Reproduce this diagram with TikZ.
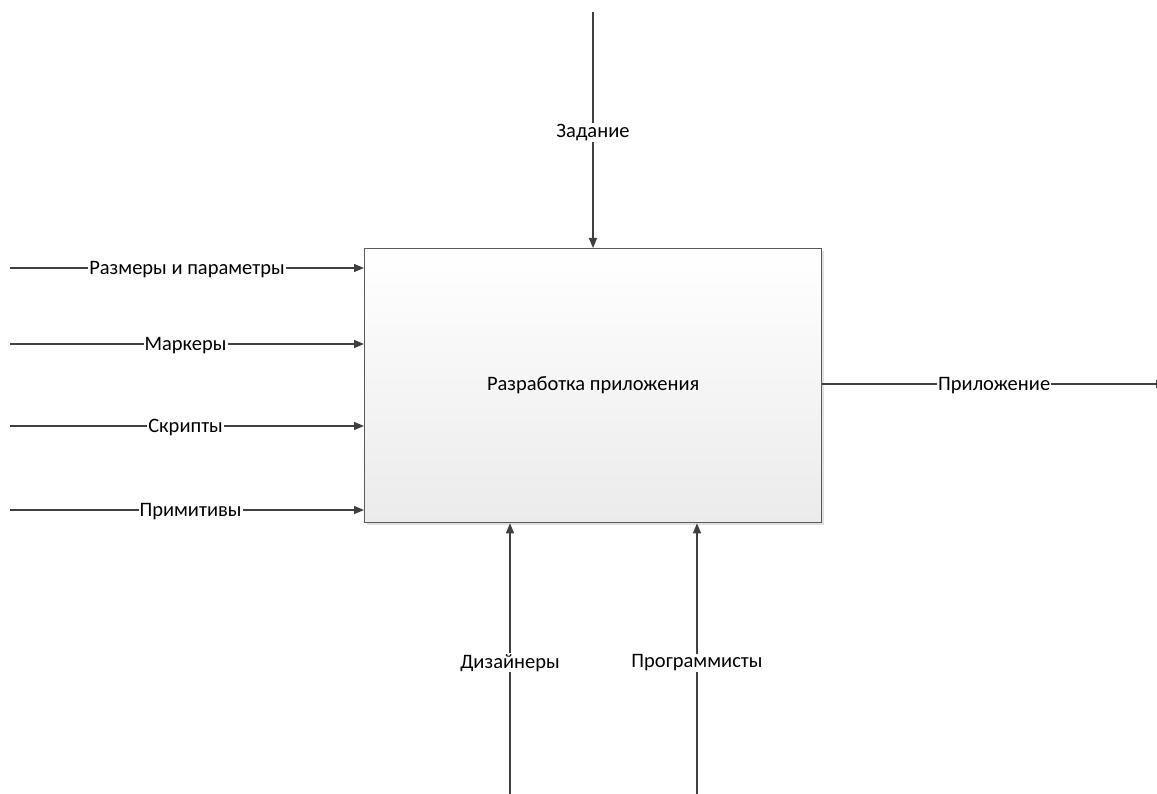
\documentclass[tikz,border=0pt]{standalone}
\usepackage{fontspec}
\setmainfont{Carlito}
\usetikzlibrary{arrows.meta}
\definecolor{linegray}{HTML}{404040}
\definecolor{boxedge}{HTML}{5A5A5A}
\definecolor{boxbottom}{HTML}{EBEBEB}
\tikzset{
  flow/.style={draw=linegray, line width=1.3pt, -{Triangle[length=10pt,width=8pt]}},
  lbl/.style={fill=white, inner sep=1pt, yshift=-1.5pt, text=black, font=\fontsize{20.5}{24}\selectfont},
  activity/.style={draw=boxedge, line width=1.3pt, top color=white, bottom color=boxbottom,
    minimum width=457pt, minimum height=274pt, inner sep=0pt,
    font=\fontsize{20.5}{24}\selectfont}
}
\begin{document}
\begin{tikzpicture}[x=1pt,y=-1pt]
\useasboundingbox (0,0) rectangle (1157,794);
% soft shadow under the activity box
\fill[black!12] (367,251) rectangle (824,525);
\node[activity, anchor=north west] (box) at (364,248) {\raisebox{-2pt}{Разработка приложения}};

% inputs on the left
\coordinate (in1) at (10,268);
\coordinate (in2) at (10,344);
\coordinate (in3) at (10,426);
\coordinate (in4) at (10,510);
\draw[flow] (in1) -- node[lbl, pos=0.50] {Размеры и параметры} (in1 -| box.west);
\draw[flow] (in2) -- node[lbl, pos=0.496] {Маркеры} (in2 -| box.west);
\draw[flow] (in3) -- node[lbl, pos=0.496] {Скрипты} (in3 -| box.west);
\draw[flow] (in4) -- node[lbl, pos=0.51] {Примитивы} (in4 -| box.west);

% control from above
\coordinate (ctl) at (593,12);
\draw[flow] (ctl) -- node[lbl, pos=0.505] {Задание} (ctl |- box.north);

% output on the right
\coordinate (out) at (1166,384);
\draw[flow] (box.east |- out) -- node[lbl, pos=0.5] {Приложение} (out);

% mechanisms from below
\coordinate (m1) at (510,794);
\coordinate (m2) at (697,794);
\draw[flow] (m1) -- node[lbl, pos=0.49] {Дизайнеры} (m1 |- box.south);
\draw[flow] (m2) -- node[lbl, pos=0.49] {Программисты} (m2 |- box.south);
\end{tikzpicture}
\end{document}
